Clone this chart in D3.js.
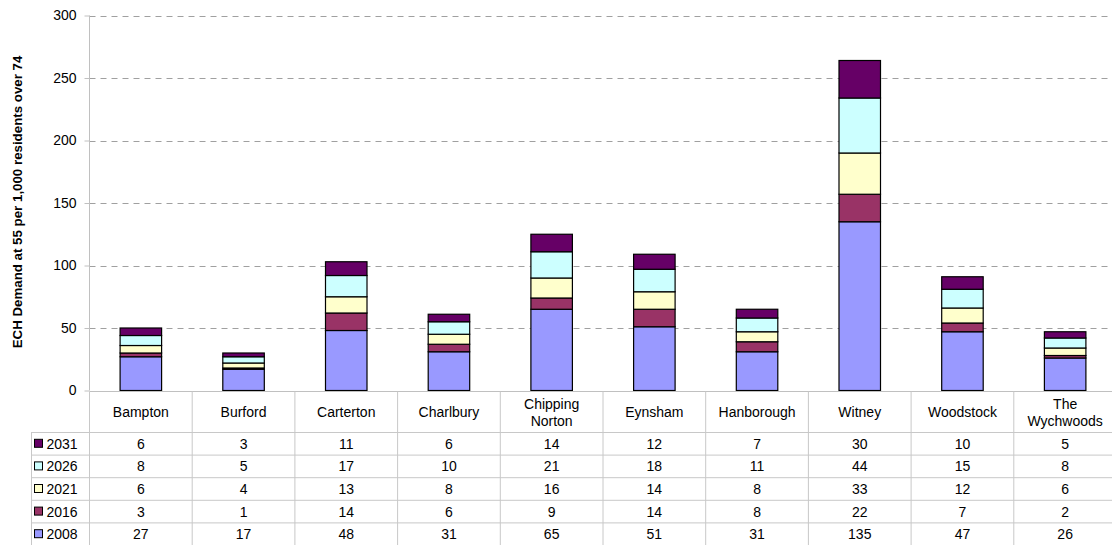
<!DOCTYPE html>
<html>
<head>
<meta charset="utf-8">
<script src="https://cdn.jsdelivr.net/npm/d3@7"></script>
<style>
  html, body { margin: 0; padding: 0; background: #fff; }
  svg { display: block; font-family: "Liberation Sans", Arial, sans-serif; }
</style>
</head>
<body>
<svg id="chart" width="1112" height="545"></svg>
<script>
// Settlements along the x axis
const categories = ["Bampton", "Burford", "Carterton", "Charlbury", "Chipping Norton",
                    "Eynsham", "Hanborough", "Witney", "Woodstock", "The Wychwoods"];
// Series, bottom of the stack first
const seriesNames = ["2008", "2016", "2021", "2026", "2031"];
const v2008 = [27, 17, 48, 31, 65, 51, 31, 135, 47, 26];
const v2016 = [3, 1, 14, 6, 9, 14, 8, 22, 7, 2];
const v2021 = [6, 4, 13, 8, 16, 14, 8, 33, 12, 6];
const v2026 = [8, 5, 17, 10, 21, 18, 11, 44, 15, 8];
const v2031 = [6, 3, 11, 6, 14, 12, 7, 30, 10, 5];
const seriesColors = ["#9999FF", "#993366", "#FFFFCC", "#CCFFFF", "#660066"];
const yTicks = [0, 50, 100, 150, 200, 250, 300];
const yTitle = "ECH Demand at 55 per 1,000 residents over 74";

const seriesValues = [v2008, v2016, v2021, v2026, v2031];
const rows = categories.map((c, i) => {
  const r = { cat: c };
  seriesNames.forEach((s, k) => { r[s] = seriesValues[k][i]; });
  return r;
});

const svg = d3.select("#chart");
const left = 89.5, colW = 102.7;
const yTop = 15.5, yBottom = 390.5;
const fs = 14;

const x = d3.scaleBand().domain(categories)
  .range([left, left + colW * categories.length]).paddingInner(0).paddingOuter(0);
const y = d3.scaleLinear().domain([0, 300]).range([yBottom, yTop]);

// dashed gridlines
svg.append("g").selectAll("line").data(yTicks.filter(t => t > 0)).join("line")
  .attr("x1", left).attr("x2", 1112)
  .attr("y1", d => Math.round(y(d)) + 0.5).attr("y2", d => Math.round(y(d)) + 0.5)
  .attr("stroke", "#a0a0a0").attr("stroke-width", 1).attr("stroke-dasharray", "6,5");

// y axis
const yAxis = svg.append("g").attr("transform", `translate(${left},0)`)
  .call(d3.axisLeft(y).tickValues(yTicks).tickSize(5).tickPadding(8));
yAxis.select(".domain").attr("stroke", "#c0c0c0").attr("d", `M0,${yTop}V${yBottom}`);
yAxis.selectAll(".tick line").attr("stroke", "#c0c0c0");
yAxis.selectAll(".tick text").attr("font-size", fs).attr("fill", "#000")
  .attr("font-family", "'Liberation Sans', Arial, sans-serif");

// y title
svg.append("text")
  .attr("transform", `translate(22,${(yTop + yBottom) / 2 - 1}) rotate(-90)`)
  .attr("text-anchor", "middle").attr("font-size", 13.3).attr("font-weight", "bold")
  .text(yTitle);

// stacked bars
const stack = d3.stack().keys(seriesNames)(rows);
const barW = 41.5;
svg.append("g").selectAll("g").data(stack).join("g")
  .attr("fill", (d, i) => seriesColors[i])
  .selectAll("rect").data(d => d).join("rect")
  .attr("x", d => x(d.data.cat) + (colW - barW) / 2)
  .attr("width", barW)
  .attr("y", d => y(d[1]))
  .attr("height", d => y(d[0]) - y(d[1]))
  .attr("stroke", "#000").attr("stroke-width", 1.2);

// data table
const headTop = 391.5, headBottom = 432.5, rowH = 22.6;
const tableRight = left + colW * categories.length;
const grid = svg.append("g").attr("stroke", "#c8c8c8").attr("stroke-width", 1);
// x axis line / table top
grid.append("line").attr("x1", left).attr("x2", tableRight).attr("y1", headTop).attr("y2", headTop)
  .attr("stroke", "#c0c0c0");
// horizontal row lines
for (let r = 0; r <= seriesNames.length; r++) {
  const yy = headBottom + r * rowH;
  grid.append("line").attr("x1", 31).attr("x2", tableRight).attr("y1", yy).attr("y2", yy);
}
// vertical lines
for (let c = 0; c <= categories.length; c++) {
  const xx = left + c * colW;
  grid.append("line").attr("x1", xx).attr("x2", xx).attr("y1", headTop).attr("y2", headBottom + 5 * rowH);
}
grid.append("line").attr("x1", 31.5).attr("x2", 31.5).attr("y1", headBottom).attr("y2", headBottom + 5 * rowH);

// header labels
const head = svg.append("g").attr("font-size", fs).attr("text-anchor", "middle");
categories.forEach(c => {
  const words = c.split(" ");
  const cx = x(c) + colW / 2;
  if (words.length === 1) {
    head.append("text").attr("x", cx).attr("y", (headTop + headBottom) / 2 + 5).text(c);
  } else {
    const t = head.append("text").attr("x", cx).attr("y", (headTop + headBottom) / 2 - 3);
    t.append("tspan").attr("x", cx).text(words[0]);
    t.append("tspan").attr("x", cx).attr("dy", 17).text(words.slice(1).join(" "));
  }
});

// table rows, top row = last series
const order = seriesNames.map((s, i) => i).reverse();
order.forEach((k, r) => {
  const cy = headBottom + r * rowH + rowH / 2;
  svg.append("rect").attr("x", 34.5).attr("y", cy - 4.5).attr("width", 8).attr("height", 8)
    .attr("fill", seriesColors[k]).attr("stroke", "#000").attr("stroke-width", 1);
  svg.append("text").attr("x", 46.5).attr("y", cy + 5).attr("font-size", fs).text(seriesNames[k]);
  const g = svg.append("g").attr("font-size", fs).attr("text-anchor", "middle");
  categories.forEach((c, i) => {
    g.append("text").attr("x", x(c) + colW / 2).attr("y", cy + 5).text(seriesValues[k][i]);
  });
});
</script>
</body>
</html>
